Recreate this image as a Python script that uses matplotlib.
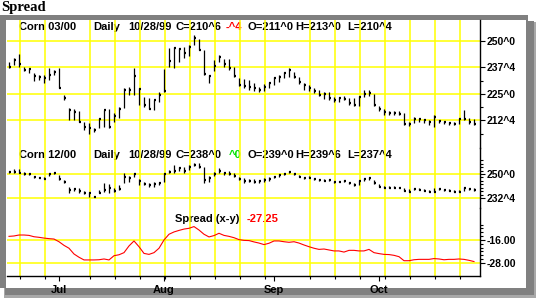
import numpy as np
import pandas as pd
import matplotlib
matplotlib.use('Agg')
import matplotlib.pyplot as plt
from matplotlib.patches import Rectangle

# trading days shown (Jun 17 - Oct 28 1999, exchange holidays removed)
holidays = ['1999-07-05', '1999-09-06']
days = pd.bdate_range('1999-06-17', '1999-10-28')
days = days[~days.isin(pd.to_datetime(holidays))]

# Corn 03/00 (cents, ^ = eighths)
mar_high = [240.2, 241.8, 243.9, 237.9, 237.1, 234.7, 234.0, 234.0, 237.1, 236.3,
            237.1, 224.5, 218.2, 217.8, 217.1, 211.9, 211.2, 208.8, 213.5, 217.5,
            217.8, 215.9, 219.0, 227.7, 228.5, 237.1, 227.7, 223.7, 222.9, 222.2,
            226.1, 236.6, 246.5, 247.3, 246.5, 247.3, 248.1, 252.8, 250.8, 245.8,
            234.0, 241.0, 243.4, 241.4, 241.4, 237.9, 232.4, 231.9, 231.6, 230.0,
            228.5, 229.7, 230.8, 233.2, 234.0, 235.5, 237.1, 235.5, 232.9, 230.0,
            229.2, 227.7, 226.9, 226.1, 226.1, 223.7, 223.7, 224.0, 222.9, 222.9,
            224.0, 226.9, 226.9, 225.0, 219.3, 217.8, 217.1, 217.1, 217.1, 216.2,
            211.9, 214.0, 213.5, 213.1, 212.7, 215.1, 212.7, 212.4, 211.9, 211.9,
            213.5, 217.5, 213.5, 213.0]
mar_low = [237.1, 238.7, 237.9, 236.0, 234.7, 231.3, 231.6, 230.3, 231.6, 234.0,
           227.7, 222.2, 212.7, 212.7, 211.9, 208.0, 206.0, 207.2, 208.8, 209.6,
           208.8, 211.9, 213.5, 218.2, 224.5, 224.5, 219.8, 218.7, 217.8, 217.5,
           221.4, 226.1, 237.9, 237.1, 240.2, 241.8, 242.9, 248.1, 245.8, 234.0,
           230.0, 236.0, 240.2, 237.9, 236.3, 232.9, 228.8, 227.7, 226.9, 226.6,
           226.1, 226.6, 227.7, 229.2, 230.8, 232.4, 233.2, 232.4, 229.7, 226.9,
           226.6, 225.6, 224.0, 222.5, 222.2, 221.4, 221.4, 222.2, 219.8, 219.3,
           219.3, 223.4, 224.0, 219.3, 217.1, 215.1, 215.1, 215.1, 215.1, 210.4,
           209.9, 211.2, 212.0, 211.5, 210.4, 209.3, 211.2, 210.8, 210.4, 210.4,
           210.8, 212.7, 210.8, 210.5]
mar_close = [237.9, 241.0, 239.1, 236.3, 236.8, 233.5, 233.2, 232.4, 234.0, 235.5,
             228.0, 222.9, 217.5, 216.7, 211.9, 209.3, 208.8, 208.0, 213.1, 217.5,
             209.6, 214.6, 217.8, 226.9, 226.9, 233.5, 227.2, 219.8, 217.8, 222.2,
             224.5, 226.4, 240.6, 246.5, 246.1, 244.2, 247.3, 251.3, 245.8, 234.4,
             233.5, 238.4, 242.6, 239.1, 237.1, 233.5, 229.2, 228.8, 228.5, 227.7,
             226.9, 228.5, 230.0, 232.4, 233.2, 235.1, 236.3, 232.9, 230.8, 229.2,
             227.7, 226.6, 224.5, 225.0, 222.9, 222.2, 222.9, 222.5, 220.6, 219.8,
             223.4, 225.0, 225.6, 219.8, 217.8, 216.7, 216.2, 216.2, 215.6, 210.8,
             210.8, 213.2, 213.1, 212.7, 211.9, 214.3, 212.4, 211.9, 211.2, 210.8,
             213.2, 213.1, 211.9, 210.75]

# Corn 12/00
dec_high = [252.4, 253.4, 253.4, 251.2, 250.5, 248.5, 248.1, 247.6, 250.5, 251.2,
            249.3, 245.6, 240.8, 239.6, 239.6, 237.9, 237.1, 234.0, 238.3, 243.2,
            242.7, 239.6, 242.0, 250.5, 248.5, 250.5, 246.1, 244.4, 243.7, 244.4,
            244.4, 251.0, 252.9, 256.6, 255.4, 254.9, 256.6, 258.3, 257.8, 255.4,
            248.5, 251.7, 254.1, 251.7, 252.2, 250.5, 248.1, 246.9, 246.1, 246.1,
            245.6, 246.9, 247.6, 248.5, 249.8, 250.5, 252.4, 250.5, 249.3, 248.1,
            248.5, 247.3, 246.6, 246.1, 246.6, 245.2, 245.2, 245.6, 244.4, 243.7,
            245.6, 247.3, 247.6, 245.6, 242.7, 241.0, 241.0, 241.0, 240.8, 239.6,
            238.8, 239.6, 239.6, 238.8, 238.3, 239.6, 239.6, 239.0, 238.8, 238.3,
            238.3, 240.8, 239.6, 239.75]
dec_low = [250.5, 251.0, 250.5, 249.3, 249.3, 246.9, 246.9, 246.6, 248.5, 249.8,
           245.6, 243.2, 235.9, 237.9, 236.4, 235.4, 233.5, 233.0, 235.9, 237.1,
           235.9, 237.1, 238.3, 243.2, 244.4, 248.1, 242.0, 242.0, 240.8, 240.8,
           242.0, 244.4, 250.5, 250.5, 252.4, 250.5, 252.9, 255.8, 254.1, 243.2,
           244.4, 248.5, 250.5, 249.3, 249.3, 248.1, 245.6, 243.7, 244.4, 243.7,
           243.7, 244.4, 245.2, 246.9, 248.1, 249.0, 250.5, 249.0, 247.6, 246.6,
           246.9, 245.6, 245.2, 244.7, 245.2, 243.7, 244.0, 244.4, 242.7, 241.5,
           242.0, 245.2, 245.6, 242.7, 240.8, 239.6, 239.6, 240.0, 239.6, 237.9,
           237.1, 238.3, 238.3, 237.5, 237.1, 236.8, 238.3, 237.9, 237.5, 237.1,
           236.8, 237.9, 238.3, 237.5]
dec_close = [251.2, 251.7, 251.0, 249.8, 249.8, 247.6, 246.9, 246.6, 250.0, 250.5,
             246.1, 244.4, 238.3, 238.8, 237.9, 236.4, 235.9, 233.5, 236.4, 238.3,
             240.0, 237.9, 238.8, 247.6, 246.9, 249.8, 245.2, 242.7, 242.0, 242.7,
             243.7, 250.0, 251.7, 252.4, 254.1, 252.4, 255.4, 256.6, 254.9, 245.6,
             246.9, 250.0, 252.4, 250.5, 250.0, 248.5, 246.6, 244.7, 245.2, 244.4,
             244.7, 245.6, 246.1, 247.6, 249.3, 250.0, 251.2, 249.8, 248.1, 246.9,
             247.3, 246.1, 245.6, 245.2, 245.6, 244.0, 244.4, 244.7, 243.2, 242.0,
             245.2, 246.1, 246.9, 243.2, 240.8, 239.6, 239.6, 240.0, 239.6, 237.9,
             237.1, 238.8, 238.3, 237.9, 237.1, 237.1, 238.8, 238.3, 237.9, 237.1,
             237.1, 239.6, 238.8, 238.0]

# Spread (x-y)
spread = [-14.1, -13.9, -13.4, -13.4, -13.6, -14.3, -14.6, -15.0, -15.3, -15.5,
          -16.9, -18.8, -20.3, -23.3, -25.0, -26.4, -26.4, -26.4, -26.3, -25.9,
          -26.4, -24.2, -23.7, -22.6, -19.1, -16.5, -19.5, -23.0, -23.5, -22.6,
          -20.3, -16.0, -13.0, -11.8, -11.0, -10.3, -9.9, -9.0, -10.8, -13.0,
          -14.4, -13.7, -12.5, -13.6, -14.1, -14.8, -15.8, -16.2, -16.3, -17.0,
          -17.6, -18.4, -17.7, -16.5, -16.5, -16.9, -17.2, -16.9, -17.6, -18.6,
          -19.5, -20.3, -20.9, -20.7, -21.2, -21.7, -21.7, -22.3, -21.4, -21.4,
          -21.7, -21.7, -20.9, -22.6, -23.1, -23.5, -23.6, -24.0, -24.7, -26.8,
          -26.8, -26.3, -26.1, -26.1, -26.1, -25.7, -25.9, -26.3, -26.1, -26.1,
          -25.9, -26.1, -26.6, -27.25]

mar_ticks = [250, 237.5, 225, 212.5]
mar_labels = ['250^0', '237^4', '225^0', '212^4']
mar_minor = [231.25, 218.75, 206.25]
dec_ticks = [250, 232.5]
dec_labels = ['250^0', '232^4']
dec_minor = [260, 257.5, 255, 252.5, 247.5, 245, 242.5, 240, 237.5, 235]
spr_ticks = [-16, -28]
spr_labels = ['-16.00', '-28.00']
spr_minor = [-8, -10, -12, -14, -18, -20, -22, -24, -26]

W, H = 538, 306
YEL = '#ffff00'
BOLD = dict(family='Liberation Sans', weight='bold')

fig = plt.figure(figsize=(W / 100, H / 100), dpi=100)


def px(x0, y0, x1, y1):
    return [x0 / W, 1 - y1 / H, (x1 - x0) / W, (y1 - y0) / H]


# background: frame with shadow and all text in pixel coordinates
bg = fig.add_axes([0, 0, 1, 1])
bg.set_xlim(0, W)
bg.set_ylim(H, 0)
bg.axis('off')
bg.add_patch(Rectangle((4, 22), 532, 276, color='#a8a8a8', lw=0))
bg.add_patch(Rectangle((5, 21), 529, 274, color='#808080', lw=0))
bg.add_patch(Rectangle((0, 15), 528, 273, color='#808080', lw=0))
bg.add_patch(Rectangle((6, 20), 520, 268, color='white', lw=0))

bg.text(1, 7.5, 'Spread', family='Liberation Serif', weight='bold', fontsize=10.5,
        va='center', ha='left')

hdr_x = [19, 93, 128, 176, 226, 248, 295, 347]
top_hdr = ['Corn 03/00', 'Daily', '10/28/99', 'C=210^6', '-^4', 'O=211^0', 'H=213^0', 'L=210^4']
mid_hdr = ['Corn 12/00', 'Daily', '10/28/99', 'C=238^0', '^0', 'O=239^0', 'H=239^6', 'L=237^4']
for i, (a, b) in enumerate(zip(top_hdr, mid_hdr)):
    c1 = 'red' if i == 4 else 'black'
    c2 = '#00e000' if i == 4 else 'black'
    x2 = 229 if i == 4 else hdr_x[i]
    bg.text(hdr_x[i], 27, a, color=c1, fontsize=8, va='center', **BOLD)
    bg.text(x2, 155.5, b, color=c2, fontsize=8, va='center', **BOLD)
bg.text(175, 218.5, 'Spread (x-y)', fontsize=8, va='center', **BOLD)
bg.text(247, 218.5, '-27.25', color='red', fontsize=8, va='center', **BOLD)

# data panels
xs = np.arange(len(days))
mondays = [i for i, d in enumerate(days) if d.dayofweek == 0]
month_start = [i for i in range(1, len(days)) if days[i].month != days[i - 1].month]
month_names = [days[i].strftime('%b') for i in month_start]

ax1 = fig.add_axes(px(7, 20, 480, 148))
ax2 = fig.add_axes(px(7, 148, 480, 208))
ax3 = fig.add_axes(px(7, 208, 480, 276))
limits = [(199.5, 259.9), (225.2, 268.96), (-34.78, 0.69)]
panels = [(ax1, mar_ticks, mar_labels, mar_minor),
          (ax2, dec_ticks, dec_labels, dec_minor),
          (ax3, spr_ticks, spr_labels, spr_minor)]

for (ax, tk, lb, mn), lim in zip(panels, limits):
    ax.set_facecolor('none')
    ax.set_xlim(-0.4, 94.2)
    ax.set_ylim(*lim)
    for s in ['top', 'left', 'bottom']:
        ax.spines[s].set_visible(False)
    ax.spines['right'].set_linewidth(1)
    for m in mondays:
        ax.axvline(m + 0.2, color=YEL, lw=1.1, zorder=1)
    for t in tk:
        ax.axhline(t, color=YEL, lw=1.1, zorder=1)
    ax.yaxis.tick_right()
    ax.set_yticks(tk, lb, fontsize=7.5, **BOLD)
    ax.set_yticks(mn, minor=True)
    ax.tick_params(axis='y', which='major', length=3.8, width=0.8, pad=1.2)
    ax.tick_params(axis='y', which='minor', length=2.3, width=0.8)
    ax.tick_params(axis='x', which='both', bottom=False, labelbottom=False)


def bars(ax, hi, lo, cl):
    ax.vlines(xs, lo, hi, color='black', lw=0.9, zorder=3)
    ax.hlines(cl, xs, xs + 0.45, color='black', lw=1.6, zorder=3)


bars(ax1, mar_high, mar_low, mar_close)
bars(ax2, dec_high, dec_low, dec_close)
ax3.plot(xs, spread, color='red', lw=0.8, zorder=3)

ax3.spines['bottom'].set_visible(True)
ax3.spines['bottom'].set_linewidth(1)
ax3.set_xticks(month_start, month_names, fontsize=8, **BOLD)
ax3.set_xticks([m + 0.2 for m in mondays], minor=True)
ax3.tick_params(axis='x', which='major', bottom=True, labelbottom=True,
                length=3.8, width=0.8, pad=3)
ax3.tick_params(axis='x', which='minor', bottom=True, length=2.3, width=0.8)

fig.savefig('out.png', dpi=100)
